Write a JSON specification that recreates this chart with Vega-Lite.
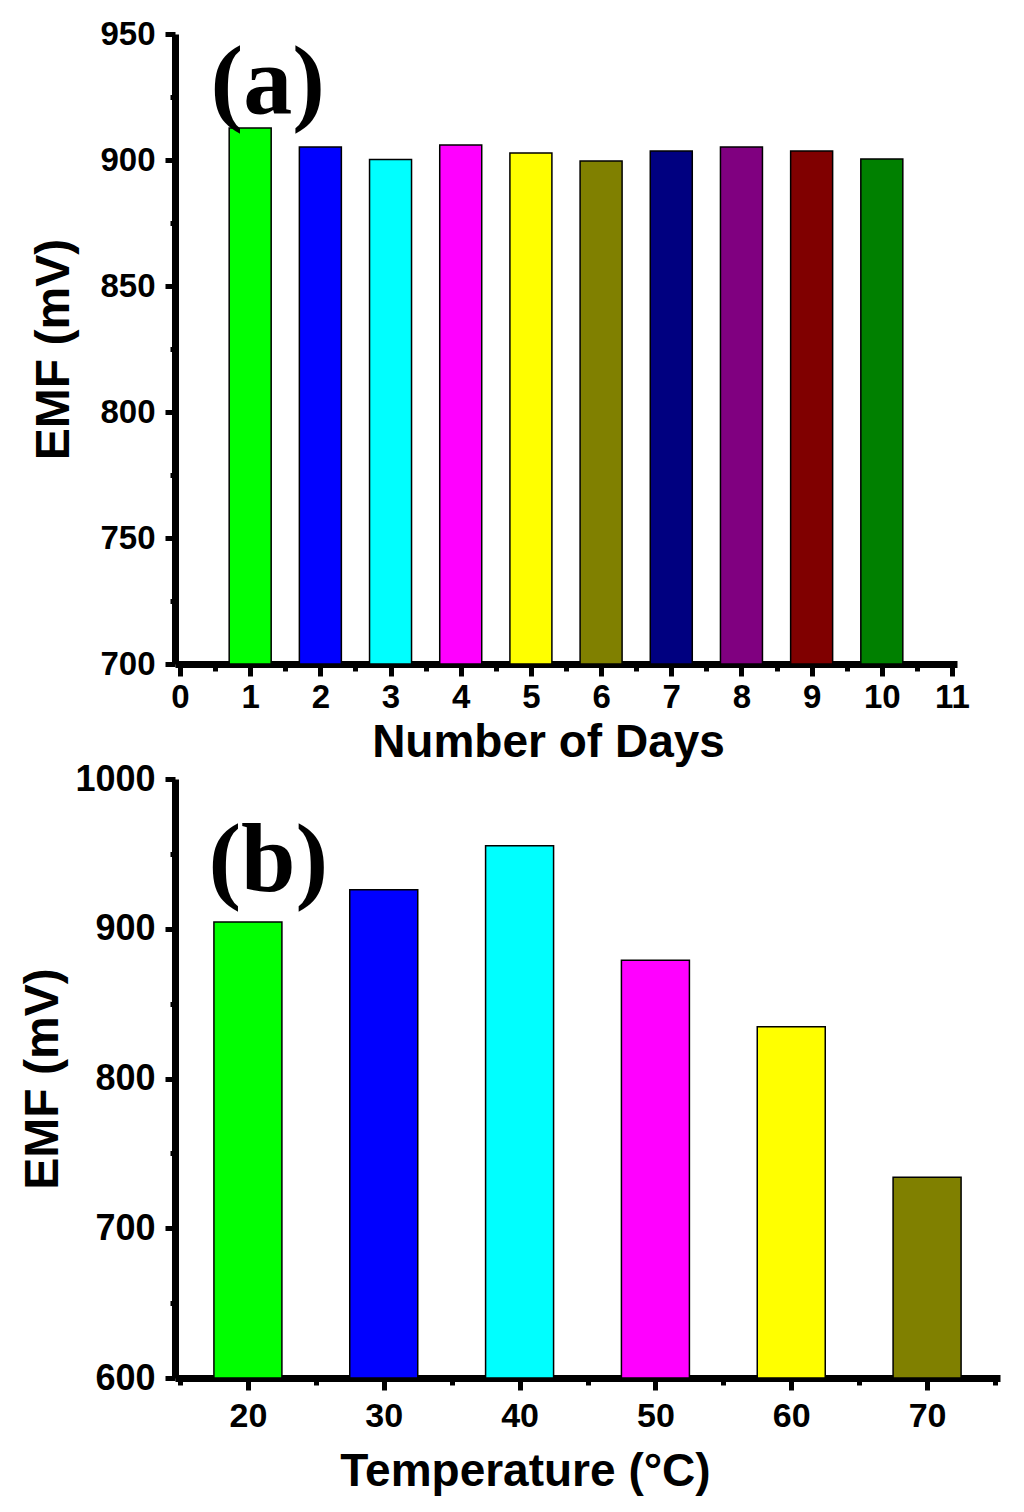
{
  "$schema": "https://vega.github.io/schema/vega-lite/v6.json",
  "background": "white",
  "padding": {"left": 19, "top": 18, "right": 10, "bottom": 10},
  "columns": 1,
  "align": "none",
  "spacing": -4,
  "config": {
    "view": {"stroke": null},
    "axis": {
      "domainColor": "black",
      "domainWidth": 7,
      "tickColor": "black",
      "tickWidth": 5,
      "grid": false,
      "labelFont": "Liberation Sans",
      "labelFontWeight": "bold",
      "labelFontSize": 33,
      "labelColor": "black",
      "titleFont": "Liberation Sans",
      "titleFontWeight": "bold",
      "titleFontSize": 48,
      "titleColor": "black",
      "zindex": 1
    }
  },
  "concat": [
    {
      "width": 782,
      "height": 630,
      "layer": [
        {
          "data": {
            "values": [
              {"day": 1, "emf": 912.7},
              {"day": 2, "emf": 905.2},
              {"day": 3, "emf": 900.2},
              {"day": 4, "emf": 906.0},
              {"day": 5, "emf": 902.8},
              {"day": 6, "emf": 899.6},
              {"day": 7, "emf": 903.6},
              {"day": 8, "emf": 905.2},
              {"day": 9, "emf": 903.6},
              {"day": 10, "emf": 900.4}
            ]
          },
          "mark": {"type": "bar", "size": 42, "stroke": "black", "strokeWidth": 1.5},
          "encoding": {
            "x": {
              "field": "day",
              "type": "quantitative",
              "scale": {"domain": [0, 11], "nice": false, "zero": false},
              "axis": {
                "orient": "bottom",
                "title": "Number of Days",
                "titleFontSize": 46,
                "titleX": 373,
                "titleAlign": "center",
                "titleAnchor": null,
                "values": [0, 1, 2, 3, 4, 5, 6, 7, 8, 9, 10, 11],
                "tickSize": 12,
                "labelPadding": 5,
                "titlePadding": 6
              }
            },
            "y": {
              "field": "emf",
              "type": "quantitative",
              "scale": {"domain": [700, 950], "nice": false, "zero": false},
              "axis": {
                "orient": "left",
                "title": "EMF (mV)",
                "values": [700, 750, 800, 850, 900, 950],
                "tickSize": 10,
                "labelPadding": 10,
                "titlePadding": 21
              }
            },
            "y2": {"datum": 700},
            "color": {
              "field": "day",
              "type": "nominal",
              "legend": null,
              "scale": {
                "domain": [1, 2, 3, 4, 5, 6, 7, 8, 9, 10],
                "range": ["#00ff00", "#0000ff", "#00ffff", "#ff00ff", "#ffff00", "#808000", "#000080", "#800080", "#800000", "#008000"]
              }
            }
          }
        },
        {
          "data": {"values": [{"label": "(a)", "day": 1.25, "emf": 930}]},
          "mark": {
            "type": "text",
            "font": "Liberation Serif",
            "fontWeight": "bold",
            "fontSize": 98,
            "align": "center",
            "baseline": "middle",
            "color": "black"
          },
          "encoding": {
            "x": {
              "field": "day",
              "type": "quantitative",
              "axis": {
                "orient": "bottom",
                "title": null,
                "labels": false,
                "domain": false,
                "values": [0.5, 1.5, 2.5, 3.5, 4.5, 5.5, 6.5, 7.5, 8.5, 9.5, 10.5],
                "tickSize": 7
              }
            },
            "y": {
              "field": "emf",
              "type": "quantitative",
              "axis": {
                "orient": "left",
                "title": null,
                "labels": false,
                "domain": false,
                "values": [725, 775, 825, 875, 925],
                "tickSize": 5
              }
            },
            "text": {"field": "label"}
          }
        }
      ],
      "resolve": {"axis": {"x": "independent", "y": "independent"}}
    },
    {
      "width": 825,
      "height": 599,
      "layer": [
        {
          "data": {
            "values": [
              {"temp": 20, "emf": 904.5},
              {"temp": 30, "emf": 926},
              {"temp": 40, "emf": 955.5},
              {"temp": 50, "emf": 879},
              {"temp": 60, "emf": 834.5},
              {"temp": 70, "emf": 734}
            ]
          },
          "mark": {"type": "bar", "size": 68, "stroke": "black", "strokeWidth": 1.5},
          "encoding": {
            "x": {
              "field": "temp",
              "type": "quantitative",
              "scale": {"domain": [15, 75], "nice": false, "zero": false},
              "axis": {
                "orient": "bottom",
                "title": "Temperature (°C)",
                "titleFontSize": 46,
                "titleX": 350,
                "titleAlign": "center",
                "titleAnchor": null,
                "values": [20, 30, 40, 50, 60, 70],
                "labelFontSize": 34,
                "tickSize": 12,
                "labelPadding": 9,
                "titlePadding": 16
              }
            },
            "y": {
              "field": "emf",
              "type": "quantitative",
              "scale": {"domain": [600, 1000], "nice": false, "zero": false},
              "axis": {
                "orient": "left",
                "title": "EMF (mV)",
                "format": "d",
                "values": [600, 700, 800, 900, 1000],
                "labelFontSize": 36,
                "tickSize": 10,
                "labelPadding": 10,
                "titlePadding": 7
              }
            },
            "y2": {"datum": 600},
            "color": {
              "field": "temp",
              "type": "nominal",
              "legend": null,
              "scale": {
                "domain": [20, 30, 40, 50, 60, 70],
                "range": ["#00ff00", "#0000ff", "#00ffff", "#ff00ff", "#ffff00", "#808000"]
              }
            }
          }
        },
        {
          "data": {"values": [{"label": "(b)", "temp": 21.5, "emf": 944.6}]},
          "mark": {
            "type": "text",
            "font": "Liberation Serif",
            "fontWeight": "bold",
            "fontSize": 98,
            "align": "center",
            "baseline": "middle",
            "color": "black"
          },
          "encoding": {
            "x": {
              "field": "temp",
              "type": "quantitative",
              "axis": {
                "orient": "bottom",
                "title": null,
                "labels": false,
                "domain": false,
                "values": [15, 25, 35, 45, 55, 65, 75],
                "tickSize": 7
              }
            },
            "y": {
              "field": "emf",
              "type": "quantitative",
              "axis": {
                "orient": "left",
                "title": null,
                "labels": false,
                "domain": false,
                "values": [650, 750, 850, 950],
                "tickSize": 5
              }
            },
            "text": {"field": "label"}
          }
        }
      ],
      "resolve": {"axis": {"x": "independent", "y": "independent"}}
    }
  ]
}
